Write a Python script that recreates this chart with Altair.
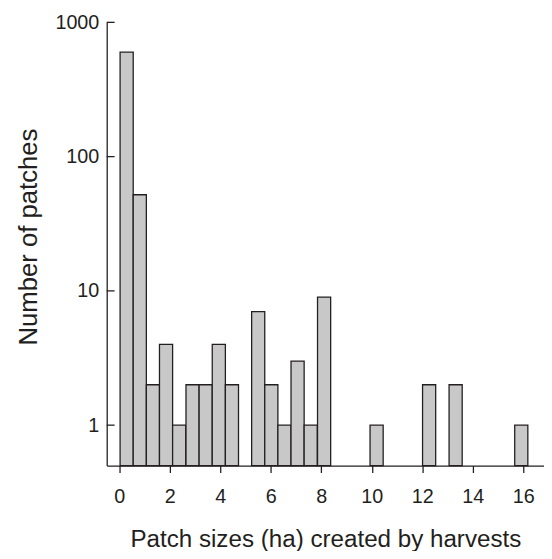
import altair as alt
import pandas as pd

# Histogram bins (left edge, ha) and counts
bin_left = [0.03, 0.55, 1.07, 1.59, 2.11, 2.64, 3.16, 3.68, 4.20,
            5.24, 5.76, 6.28, 6.80, 7.32, 7.85, 9.93, 12.01, 13.06, 15.66]
counts = [600, 52, 2, 4, 1, 2, 2, 4, 2,
          7, 2, 1, 3, 1, 9, 1, 2, 2, 1]
bin_width = 0.52
y_ticks = [1, 10, 100, 1000]
x_ticks = [0, 2, 4, 6, 8, 10, 12, 14, 16]

df = pd.DataFrame({
    "x0": bin_left,
    "x1": [b + bin_width for b in bin_left],
    "count": counts,
    "base": [0.5] * len(counts),
})
ticks_df = pd.DataFrame({"count": y_ticks})

FONT = "Liberation Sans"
INK = "#231f20"

xscale = alt.Scale(domain=[-0.5, 16.82], nice=False, zero=False)
yscale = alt.Scale(type="log", domain=[0.5, 1000], nice=False)
yaxis = alt.Axis(values=y_ticks, format="d", title="Number of patches",
                 grid=False, ticks=False, tickSize=0, labelPadding=8,
                 titleX=-79, titleY=217, titleAngle=270, titleFontSize=26,
                 titleBaseline="middle", titleAlign="center")

bars = alt.Chart(df).mark_bar(
    fill="#c8c8c9", stroke=INK, strokeWidth=1.3
).encode(
    x=alt.X("x0:Q", scale=xscale,
            axis=alt.Axis(values=x_ticks, title="Patch sizes (ha) created by harvests",
                          grid=False, tickSize=7, labelPadding=14,
                          titleY=82, titleBaseline="alphabetic")),
    x2="x1:Q",
    y=alt.Y("count:Q", scale=yscale, axis=yaxis),
    y2="base:Q",
)

yt = alt.Chart(ticks_df).mark_rule(color=INK, strokeWidth=1.3).encode(
    y=alt.Y("count:Q", scale=yscale, axis=yaxis),
    x=alt.value(0),
    x2=alt.value(8),
)

chart = alt.layer(bars, yt).properties(
    width=443,
    height=449,
    padding={"left": 100, "top": 11, "right": 0, "bottom": 83},
    autosize=alt.AutoSizeParams(type="none"),
).configure_view(stroke=None).configure_axis(
    domainColor=INK, domainWidth=1.3, tickColor=INK, tickWidth=1.3,
    labelFont=FONT, labelFontSize=20, labelColor=INK,
    titleFont=FONT, titleFontSize=24.5, titleColor=INK, titleFontWeight="normal",
)

chart.save("out.html", embed_options={"renderer": "svg", "actions": False})
